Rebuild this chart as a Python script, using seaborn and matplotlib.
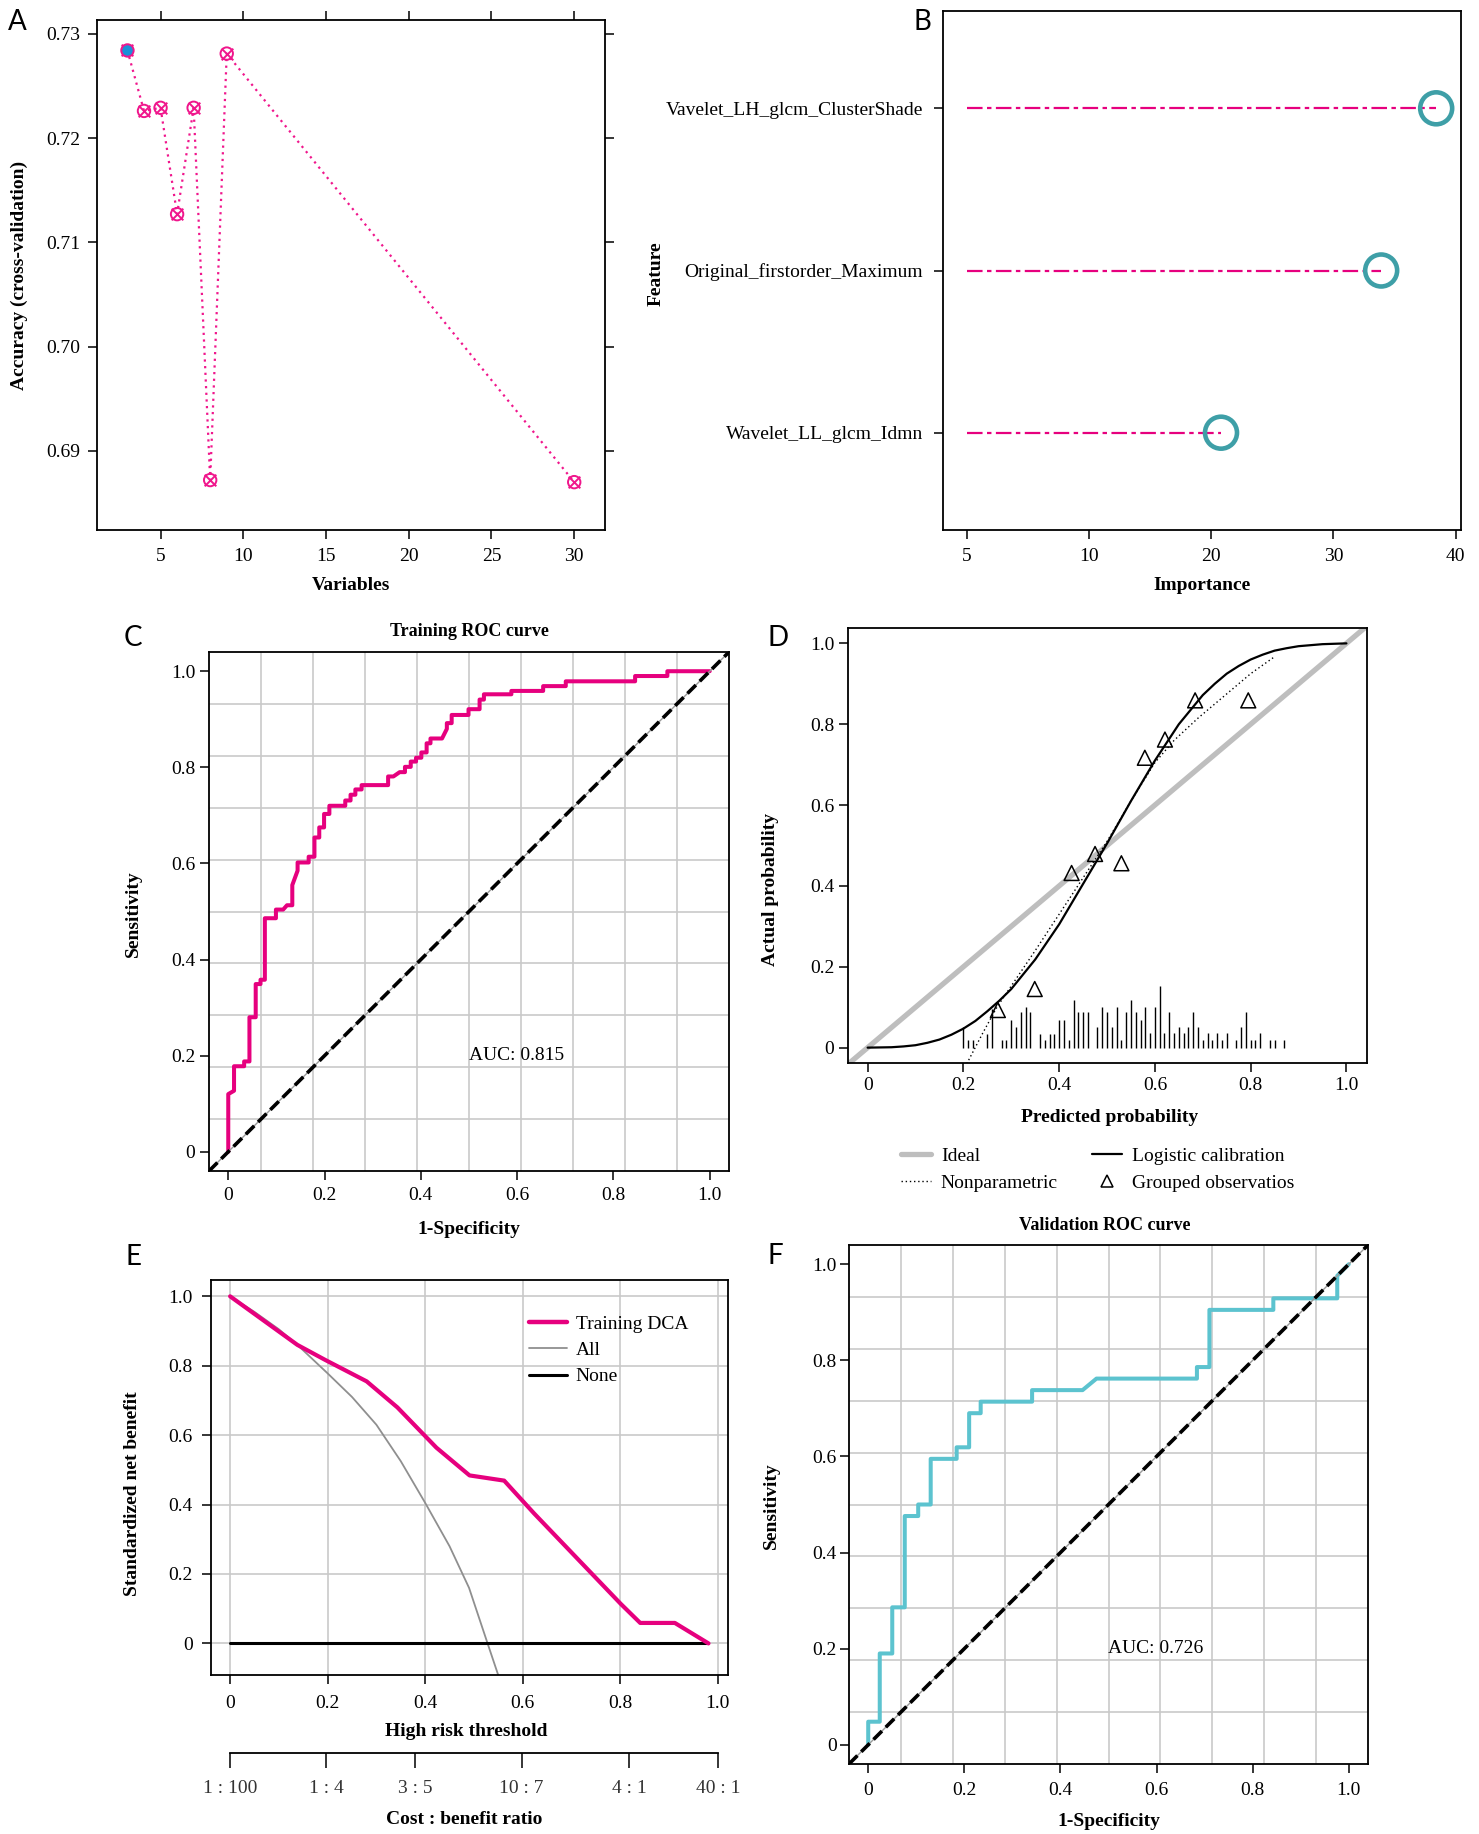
import numpy as np
import pandas as pd
import matplotlib
matplotlib.use("Agg")
import matplotlib.pyplot as plt
from matplotlib.lines import Line2D
import seaborn as sns

# ---------------- Panel A: RFE cross-validated accuracy ----------------
rfe_variables = [3, 4, 5, 6, 7, 8, 9, 30]
rfe_accuracy = [0.7284, 0.7226, 0.7229, 0.7127, 0.7229, 0.6872, 0.7281, 0.6870]
rfe_best_var = 3
rfe_best_acc = 0.7284
a_xticks = [5, 10, 15, 20, 25, 30]
a_yticks = [0.69, 0.70, 0.71, 0.72, 0.73]

# ---------------- Panel B: feature importance ----------------
features = ["Vavelet_LH_glcm_ClusterShade", "Original_firstorder_Maximum", "Wavelet_LL_glcm_Idmn"]
importance = [38.4, 33.9, 20.8]
b_tick_pos = [0, 10, 20, 30, 40]
b_tick_labels = ["5", "10", "20", "30", "40"]

# ---------------- Panel C: training ROC ----------------
train_fpr = [0, 0, 0.012, 0.012, 0.033, 0.033, 0.044, 0.044, 0.057, 0.057,
             0.067, 0.067, 0.076, 0.076, 0.099, 0.099, 0.114, 0.122, 0.133, 0.133,
             0.144, 0.144, 0.167, 0.167, 0.179, 0.179, 0.189, 0.189, 0.199, 0.199,
             0.210, 0.210, 0.243, 0.243, 0.254, 0.254, 0.264, 0.264, 0.277, 0.277,
             0.332, 0.332, 0.343, 0.356, 0.367, 0.367, 0.379, 0.379, 0.390, 0.390,
             0.401, 0.401, 0.412, 0.412, 0.420, 0.420, 0.444, 0.454, 0.454, 0.464,
             0.464, 0.499, 0.499, 0.522, 0.522, 0.531, 0.531, 0.588, 0.588, 0.654,
             0.654, 0.701, 0.701, 0.845, 0.845, 0.912, 0.912, 1.0]
train_tpr = [0, 0.12, 0.127, 0.178, 0.178, 0.188, 0.188, 0.28, 0.28, 0.349,
             0.349, 0.358, 0.358, 0.486, 0.486, 0.504, 0.504, 0.513, 0.513, 0.555,
             0.585, 0.602, 0.602, 0.614, 0.614, 0.654, 0.654, 0.675, 0.675, 0.703,
             0.703, 0.720, 0.720, 0.731, 0.731, 0.743, 0.743, 0.754, 0.754, 0.763,
             0.763, 0.781, 0.781, 0.790, 0.790, 0.801, 0.801, 0.812, 0.812, 0.820,
             0.820, 0.831, 0.831, 0.850, 0.850, 0.860, 0.860, 0.880, 0.892, 0.892,
             0.909, 0.909, 0.921, 0.921, 0.941, 0.941, 0.952, 0.952, 0.959, 0.959,
             0.969, 0.969, 0.979, 0.979, 0.990, 0.990, 1.0, 1.0]
train_auc_text = "AUC: 0.815"

# ---------------- Panel D: calibration ----------------
logistic_x = [0, 0.05, 0.075, 0.10, 0.125, 0.15, 0.175, 0.20, 0.225, 0.25, 0.275, 0.30,
              0.35, 0.40, 0.45, 0.50, 0.55, 0.60, 0.65, 0.70, 0.725, 0.75, 0.775,
              0.80, 0.825, 0.85, 0.875, 0.90, 0.95, 1.0]
logistic_y = [0.0, 0.001, 0.003, 0.006, 0.012, 0.020, 0.032, 0.047, 0.066, 0.090, 0.116, 0.145,
              0.218, 0.305, 0.405, 0.505, 0.610, 0.710, 0.800, 0.872, 0.900, 0.925, 0.944,
              0.960, 0.972, 0.982, 0.988, 0.993, 0.998, 1.0]
nonpar_x = [0.207, 0.24, 0.27, 0.31, 0.35, 0.40, 0.45, 0.50, 0.55, 0.60,
            0.64, 0.69, 0.75, 0.80, 0.85]
nonpar_y = [-0.04, 0.035, 0.10, 0.17, 0.24, 0.33, 0.42, 0.51, 0.61, 0.705,
            0.76, 0.815, 0.875, 0.925, 0.967]
group_x = [0.272, 0.349, 0.426, 0.475, 0.530, 0.579, 0.621, 0.684, 0.795]
group_y = [0.093, 0.145, 0.432, 0.479, 0.456, 0.717, 0.762, 0.859, 0.859]
rug_x = [0.20, 0.21, 0.22, 0.25, 0.26, 0.28, 0.29, 0.30, 0.31, 0.32,
         0.33, 0.34, 0.36, 0.37, 0.38, 0.39, 0.40, 0.41, 0.42, 0.43,
         0.44, 0.45, 0.46, 0.48, 0.49, 0.50, 0.51, 0.52, 0.53, 0.54,
         0.55, 0.56, 0.57, 0.58, 0.59, 0.60, 0.61, 0.62, 0.63, 0.64,
         0.65, 0.66, 0.67, 0.68, 0.69, 0.70, 0.71, 0.72, 0.73, 0.74,
         0.75, 0.77, 0.78, 0.79, 0.80, 0.81, 0.82, 0.84, 0.85, 0.87]
rug_h = [0.052, 0.019, 0.019, 0.034, 0.095, 0.019, 0.019, 0.068, 0.052, 0.087,
         0.101, 0.087, 0.034, 0.019, 0.034, 0.034, 0.068, 0.068, 0.019, 0.118,
         0.087, 0.087, 0.087, 0.052, 0.101, 0.087, 0.052, 0.101, 0.019, 0.087,
         0.118, 0.087, 0.068, 0.101, 0.036, 0.101, 0.153, 0.036, 0.087, 0.036,
         0.052, 0.036, 0.052, 0.087, 0.052, 0.019, 0.036, 0.019, 0.036, 0.019,
         0.036, 0.019, 0.052, 0.087, 0.019, 0.019, 0.036, 0.019, 0.019, 0.019]

# ---------------- Panel E: decision curve ----------------
dca_x = [0, 0.138, 0.196, 0.280, 0.343, 0.423, 0.491, 0.562, 0.623, 0.801, 0.841, 0.912, 0.981]
dca_y = [1.0, 0.860, 0.816, 0.755, 0.680, 0.564, 0.484, 0.469, 0.375, 0.114, 0.059, 0.059, 0.0]
all_x = [0, 0.05, 0.10, 0.138, 0.20, 0.25, 0.30, 0.35, 0.40, 0.45, 0.49, 0.528, 0.55]
all_y = [1.0, 0.955, 0.905, 0.86, 0.778, 0.71, 0.63, 0.525, 0.405, 0.28, 0.16, 0.0, -0.092]
none_x = [0, 0.98]
none_y = [0, 0]
cb_pos = [0.0, 0.197, 0.379, 0.598, 0.818, 1.0]
cb_labels = ["1 : 100", "1 : 4", "3 : 5", "10 : 7", "4 : 1", "40 : 1"]

# ---------------- Panel F: validation ROC ----------------
val_fpr = [0, 0, 0.024, 0.024, 0.050, 0.050, 0.076, 0.076, 0.104, 0.104,
           0.130, 0.130, 0.184, 0.184, 0.210, 0.210, 0.234, 0.234, 0.341, 0.341,
           0.446, 0.475, 0.684, 0.684, 0.710, 0.710, 0.843, 0.843, 0.976, 0.976,
           1.0]
val_tpr = [0, 0.048, 0.048, 0.190, 0.190, 0.286, 0.286, 0.476, 0.476, 0.500,
           0.500, 0.595, 0.595, 0.619, 0.619, 0.690, 0.690, 0.714, 0.714, 0.738,
           0.738, 0.762, 0.762, 0.786, 0.786, 0.905, 0.905, 0.929, 0.929, 0.976,
           1.0]
val_auc_text = "AUC: 0.726"

unit_ticks = [0, 0.2, 0.4, 0.6, 0.8, 1.0]
unit_labels = ["0", "0.2", "0.4", "0.6", "0.8", "1.0"]

# ---------------- style ----------------
PINK = "#E6007E"
A_PINK = "#F0168C"
BLUE = "#1C8FD8"
TEAL_B = "#3E9FA7"
TEAL_F = "#5CC3CF"
GRID = "#C9C9C9"
IDEAL = "#BEBEBE"
ALLC = "#8F8F8F"
SERIF = ["Liberation Serif", "DejaVu Serif"]

sns.set_theme(style="ticks")
plt.rcParams["font.family"] = SERIF
plt.rcParams["axes.edgecolor"] = "black"
plt.rcParams["axes.linewidth"] = 1.3
plt.rcParams["xtick.color"] = "black"
plt.rcParams["ytick.color"] = "black"
plt.rcParams["text.color"] = "black"

W, H = 1479, 1834
fig = plt.figure(figsize=(W / 100, H / 100), dpi=100)


def px_box(l, t, r, b):
    return [l / W, 1 - b / H, (r - l) / W, (b - t) / H]


def fx(x):
    return x / W


def fy(y):
    return 1 - y / H


def style_ax(ax, xpad, ypad, length=6.8):
    ax.tick_params(axis="both", which="major", direction="out", length=length,
                   width=1.1, labelsize=14, colors="black")
    ax.tick_params(axis="x", pad=xpad)
    ax.tick_params(axis="y", pad=ypad)
    for s in ax.spines.values():
        s.set_visible(True)
        s.set_linewidth(1.3)
        s.set_color("black")
    ax.set_xlabel("")
    ax.set_ylabel("")
    for lbl in ax.get_xticklabels() + ax.get_yticklabels():
        lbl.set_family(SERIF)


def xlab(x, y, text):
    fig.text(fx(x), fy(y), text, ha="center", va="center", fontsize=14, fontweight="bold")


def ylab(x, y, text):
    fig.text(fx(x), fy(y), text, ha="center", va="center", fontsize=14,
             fontweight="bold", rotation=90)


def letter(x, y, text):
    fig.text(fx(x), fy(y), text, ha="left", va="center", fontsize=20,
             family=["Lato", "DejaVu Sans"])


# ================= Panel A =================
axA = fig.add_axes(px_box(97, 20, 605, 530))
dfA = pd.DataFrame({"Variables": rfe_variables, "Accuracy": rfe_accuracy})
sns.lineplot(data=dfA, x="Variables", y="Accuracy", ax=axA, estimator=None, sort=False,
             color=A_PINK, linewidth=1.6, linestyle=(0, (1, 2)))
sns.scatterplot(data=dfA, x="Variables", y="Accuracy", ax=axA, marker="o", s=80,
                facecolors="none", edgecolor=A_PINK, linewidth=1.4, zorder=3)
sns.scatterplot(data=dfA, x="Variables", y="Accuracy", ax=axA, marker="x", s=70,
                color=A_PINK, edgecolor=A_PINK, linewidth=1.4, zorder=4)
sns.scatterplot(x=[rfe_best_var], y=[rfe_best_acc], ax=axA, marker="o", s=66,
                color=BLUE, edgecolor=A_PINK, linewidth=0.6, zorder=5)
axA.set_xlim(1.16, 31.86)
axA.set_ylim(0.68241, 0.73132)
axA.set_xticks(a_xticks)
axA.set_yticks(a_yticks)
axA.set_yticklabels([f"{v:.2f}" for v in a_yticks])
style_ax(axA, xpad=6, ypad=5)
axA.tick_params(top=True, right=True, labeltop=False, labelright=False)
xlab(351, 585.5, "Variables")
ylab(19, 275, "Accuracy (cross-validation)")
letter(8, 22, "A")

# ================= Panel B =================
axB = fig.add_axes(px_box(943, 11, 1461, 530))
ypos = np.arange(len(features))[::-1] + 1
axB.hlines(ypos, 0, importance, colors=PINK, linestyles=[(0, (7, 2, 2, 2))], linewidth=1.6)
sns.scatterplot(x=importance, y=ypos, ax=axB, marker="o", s=530,
                facecolors="none", edgecolor=TEAL_B, linewidth=3.3, zorder=3)
axB.set_xlim(-1.94, 40.43)
axB.set_ylim(0.4, 3.6)
axB.set_xticks(b_tick_pos)
axB.set_xticklabels(b_tick_labels)
axB.set_yticks(ypos)
axB.set_yticklabels(features)
style_ax(axB, xpad=6, ypad=7.5)
xlab(1202, 585.5, "Importance")
ylab(656, 274, "Feature")
letter(913, 22, "B")


# ================= ROC helper =================
def roc_panel(ax, fpr, tpr, color, auc_text):
    lim = (-0.04, 1.04)
    grid = np.linspace(lim[0], lim[1], 11)[1:-1]
    for g in grid:
        ax.axvline(g, color=GRID, linewidth=1.2, zorder=0)
        ax.axhline(g, color=GRID, linewidth=1.2, zorder=0)
    sns.lineplot(x=fpr, y=tpr, ax=ax, estimator=None, sort=False, color=color,
                 linewidth=2.9, zorder=2)
    sns.lineplot(x=list(lim), y=list(lim), ax=ax, estimator=None, sort=False,
                 color="#9A9A9A", linewidth=1.0, zorder=3)
    sns.lineplot(x=list(lim), y=list(lim), ax=ax, estimator=None, sort=False,
                 color="black", linewidth=2.6, linestyle=(0, (3.3, 1.5)), zorder=4)
    ax.text(0.5, 0.2, auc_text, ha="left", va="center", fontsize=14, zorder=5)
    ax.set_xlim(*lim)
    ax.set_ylim(*lim)
    ax.set_xticks(unit_ticks)
    ax.set_xticklabels(unit_labels)
    ax.set_yticks(unit_ticks)
    ax.set_yticklabels(unit_labels)


# ================= Panel C =================
axC = fig.add_axes(px_box(209, 652, 729, 1171))
roc_panel(axC, train_fpr, train_tpr, PINK, train_auc_text)
style_ax(axC, xpad=5, ypad=3)
fig.text(fx(469), fy(632), "Training ROC curve", ha="center", va="center",
         fontsize=13, fontweight="bold")
xlab(469, 1230, "1-Specificity")
ylab(133, 914, "Sensitivity")
letter(124, 638, "C")

# ================= Panel D =================
axD = fig.add_axes(px_box(848, 628, 1367, 1063))
sns.lineplot(x=[-0.06, 1.06], y=[-0.06, 1.06], ax=axD, estimator=None, sort=False,
             color=IDEAL, linewidth=3.8, zorder=1)
axD.vlines(rug_x, 0, rug_h, colors="black", linewidth=1.0, zorder=2)
sns.lineplot(x=nonpar_x, y=nonpar_y, ax=axD, estimator=None, sort=False,
             color="black", linewidth=1.0, linestyle=(0, (1, 2)), zorder=3)
sns.lineplot(x=logistic_x, y=logistic_y, ax=axD, estimator=None, sort=False,
             color="black", linewidth=1.6, zorder=4)
sns.scatterplot(x=group_x, y=group_y, ax=axD, marker="^", s=115,
                facecolors="none", edgecolor="black", linewidth=1.1, zorder=5)
axD.set_xlim(-0.041, 1.043)
axD.set_ylim(-0.038, 1.038)
axD.set_xticks(unit_ticks)
axD.set_xticklabels(unit_labels)
axD.set_yticks(unit_ticks)
axD.set_yticklabels(unit_labels)
style_ax(axD, xpad=3, ypad=3)
xlab(1110, 1118, "Predicted probability")
ylab(771, 890, "Actual probability")
letter(768, 638, "D")

legD1 = fig.legend(handles=[Line2D([], [], color=IDEAL, lw=3.8),
                            Line2D([], [], color="black", lw=1.0, ls=(0, (1, 2)))],
                   labels=["Ideal", "Nonparametric"], loc="upper left",
                   bbox_to_anchor=(fx(901), fy(1147)), frameon=False, fontsize=14,
                   borderpad=0, borderaxespad=0, handlelength=1.55, handletextpad=0.5,
                   labelspacing=0.5)
legD2 = fig.legend(handles=[Line2D([], [], color="black", lw=1.6),
                            Line2D([], [], color="black", lw=0, marker="^", ms=9,
                                   markerfacecolor="none", markeredgewidth=1.1)],
                   labels=["Logistic calibration", "Grouped observatios"], loc="upper left",
                   bbox_to_anchor=(fx(1092), fy(1147)), frameon=False, fontsize=14,
                   borderpad=0, borderaxespad=0, handlelength=1.55, handletextpad=0.5,
                   labelspacing=0.5)

# ================= Panel E =================
axE = fig.add_axes(px_box(210.6, 1280, 728, 1675))
for g in unit_ticks:
    axE.axvline(g, color=GRID, linewidth=1.2, zorder=0)
    axE.axhline(g, color=GRID, linewidth=1.2, zorder=0)
sns.lineplot(x=all_x, y=all_y, ax=axE, estimator=None, sort=False, color=ALLC,
             linewidth=1.3, zorder=2)
sns.lineplot(x=none_x, y=none_y, ax=axE, estimator=None, sort=False, color="black",
             linewidth=2.2, zorder=3)
sns.lineplot(x=dca_x, y=dca_y, ax=axE, estimator=None, sort=False, color=PINK,
             linewidth=3.0, zorder=4)
axE.set_xlim(-0.04, 1.021)
axE.set_ylim(-0.091, 1.047)
axE.set_xticks(unit_ticks)
axE.set_xticklabels(unit_labels)
axE.set_yticks(unit_ticks)
axE.set_yticklabels(unit_labels)
style_ax(axE, xpad=7.5, ypad=6)
axE.legend(handles=[Line2D([], [], color=PINK, lw=3.2),
                    Line2D([], [], color=ALLC, lw=1.3),
                    Line2D([], [], color="black", lw=2.2)],
           labels=["Training DCA", "All", "None"], loc="upper left",
           bbox_to_anchor=(fx(529), fy(1315)), bbox_transform=fig.transFigure,
           frameon=False, fontsize=14, borderpad=0, borderaxespad=0,
           handlelength=1.95, handletextpad=0.45, labelspacing=0.45)
xlab(466, 1731, "High risk threshold")
ylab(132.5, 1494, "Standardized net benefit")
letter(126, 1257, "E")

axCB = fig.add_axes(px_box(210.6, 1751.7, 728, 1752.7))
axCB.set_xlim(-0.04, 1.021)
axCB.set_yticks([])
axCB.patch.set_visible(False)
for side in ["top", "left", "right"]:
    axCB.spines[side].set_visible(False)
axCB.spines["bottom"].set_bounds(cb_pos[0], cb_pos[-1])
axCB.spines["bottom"].set_linewidth(1.3)
axCB.spines["bottom"].set_color("black")
axCB.set_xticks(cb_pos)
axCB.set_xticklabels(cb_labels)
axCB.tick_params(axis="x", direction="out", length=10.5, width=1.1, labelsize=14,
                 pad=9, colors="black")
axCB.tick_params(axis="x", labelcolor="#333333")
for lbl in axCB.get_xticklabels():
    lbl.set_family(SERIF)
xlab(464, 1819, "Cost : benefit ratio")

# ================= Panel F =================
axF = fig.add_axes(px_box(849, 1245, 1368, 1764))
roc_panel(axF, val_fpr, val_tpr, TEAL_F, val_auc_text)
style_ax(axF, xpad=6, ypad=2)
fig.text(fx(1105), fy(1226), "Validation ROC curve", ha="center", va="center",
         fontsize=13, fontweight="bold")
xlab(1109, 1821, "1-Specificity")
ylab(771, 1506, "Sensitivity")
letter(768, 1256, "F")

fig.savefig("out.png", dpi=100, facecolor="white")
